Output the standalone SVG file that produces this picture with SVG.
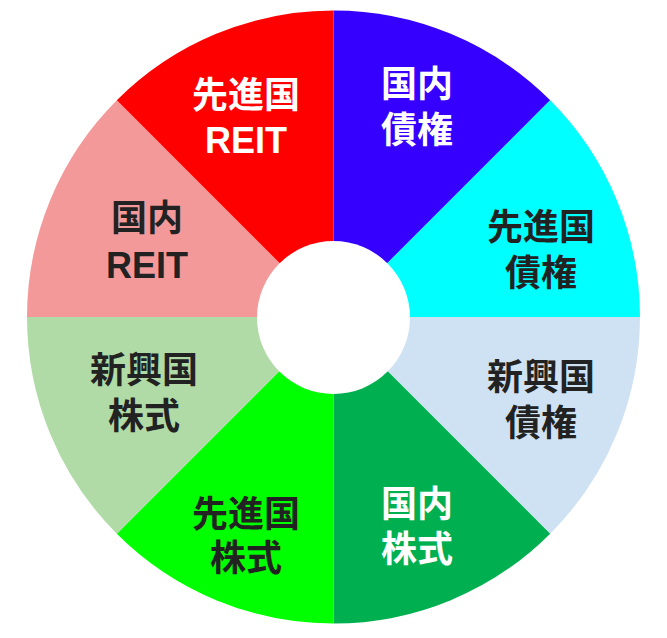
<svg xmlns="http://www.w3.org/2000/svg" width="667" height="638" viewBox="0 0 667 638">
<style>
text{font-family:"Liberation Sans","Noto Sans CJK JP",sans-serif;font-weight:bold;font-size:36px;text-anchor:middle}
.w{fill:#ffffff}
.d{fill:#222222}
</style>
<rect width="667" height="638" fill="#ffffff"/>
<g id="seg-kokunai-saiken">
<path d="M333.5 317 L333.5 10.5 A306.5 306.5 0 0 1 550.2 100.3 Z" fill="#3600FF"/>
<text class="w" x="417" y="97">国内</text>
<text class="w" x="417" y="143">債権</text>
</g>
<g id="seg-senshinkoku-saiken">
<path d="M333.5 317 L550.2 100.3 A306.5 306.5 0 0 1 640 317 Z" fill="#00FFFF"/>
<text class="d" x="541" y="240">先進国</text>
<text class="d" x="541" y="286">債権</text>
</g>
<g id="seg-shinkokoku-saiken">
<path d="M333.5 317 L640 317 A306.5 306.5 0 0 1 550.2 533.7 Z" fill="#CFE2F3"/>
<text class="d" x="541" y="390">新興国</text>
<text class="d" x="541" y="436">債権</text>
</g>
<g id="seg-kokunai-kabushiki">
<path d="M333.5 317 L550.2 533.7 A306.5 306.5 0 0 1 333.5 623.5 Z" fill="#00B050"/>
<text class="w" x="417" y="517">国内</text>
<text class="w" x="417" y="562">株式</text>
</g>
<g id="seg-senshinkoku-kabushiki">
<path d="M333.5 317 L333.5 623.5 A306.5 306.5 0 0 1 116.8 533.7 Z" fill="#00FF00"/>
<text class="d" x="246" y="527">先進国</text>
<text class="d" x="246" y="571">株式</text>
</g>
<g id="seg-shinkokoku-kabushiki">
<path d="M333.5 317 L116.8 533.7 A306.5 306.5 0 0 1 27 317 Z" fill="#B0DBA6"/>
<text class="d" x="144" y="383">新興国</text>
<text class="d" x="144" y="429">株式</text>
</g>
<g id="seg-kokunai-reit">
<path d="M333.5 317 L27 317 A306.5 306.5 0 0 1 116.8 100.3 Z" fill="#F4999A"/>
<text class="d" x="147" y="231">国内</text>
<text class="d" x="147" y="278">REIT</text>
</g>
<g id="seg-senshinkoku-reit">
<path d="M333.5 317 L116.8 100.3 A306.5 306.5 0 0 1 333.5 10.5 Z" fill="#FF0000"/>
<text class="w" x="246" y="108">先進国</text>
<text class="w" x="246" y="153">REIT</text>
</g>
<g id="hole">
<circle cx="333.5" cy="317.5" r="76.5" fill="#ffffff"/>
</g>
</svg>
